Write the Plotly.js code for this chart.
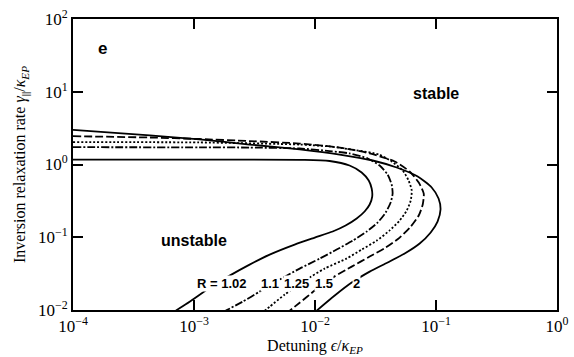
<!DOCTYPE html>
<html>
<head>
<meta charset="utf-8">
<script src="https://cdn.plot.ly/plotly-3.0.1.min.js"></script>
<style>html,body{margin:0;padding:0;background:#fff;}#chart{width:574px;height:357px;}</style>
</head>
<body>
<div id="chart"></div>
<script>
// Detuning eps/kappa_EP and relaxation rate gamma/kappa_EP along each boundary curve
const eps_R102 = [1e-4, 1.11e-3, 7.47e-3, 8.22e-3, 0.01321, 0.0193, 0.0243, 0.0278, 0.0294, 0.0297, 0.0283, 0.0257, 0.0221, 0.0179, 0.0140, 9.96e-3, 6.79e-3, 4.22e-3, 2.88e-3, 1.97e-3, 1.35e-3, 9.2e-4, 7.06e-4];
const gam_R102 = [1.17, 1.17, 1.16, 1.16, 1.117, 0.969, 0.776, 0.602, 0.468, 0.363, 0.282, 0.226, 0.181, 0.145, 0.120, 0.099, 0.0794, 0.0578, 0.0421, 0.0297, 0.0203, 0.0130, 0.0098];

const eps_R11 = [1e-4, 1.11e-3, 2.88e-3, 7.47e-3, 0.01321, 0.0193, 0.0273, 0.0342, 0.0398, 0.0430, 0.0438, 0.0422, 0.0384, 0.0329, 0.0268, 0.0205, 0.0151, 0.01094, 7.47e-3, 5.11e-3, 3.49e-3, 2.52e-3, 1.83e-3];
const gam_R11 = [1.73, 1.72, 1.71, 1.66, 1.53, 1.42, 1.21, 0.969, 0.728, 0.531, 0.399, 0.300, 0.219, 0.159, 0.120, 0.090, 0.0677, 0.0509, 0.0371, 0.0262, 0.0179, 0.0130, 0.0098];

const eps_R125 = [1e-4, 1.11e-3, 7.47e-3, 0.01321, 0.0213, 0.0340, 0.0430, 0.0531, 0.0594, 0.0630, 0.0618, 0.0573, 0.0501, 0.0414, 0.0324, 0.0243, 0.0182, 0.0120, 8.22e-3, 5.62e-3, 4.22e-3, 3.84e-3];
const gam_R125 = [2.03, 2.01, 1.88, 1.77, 1.58, 1.37, 1.10, 0.827, 0.602, 0.439, 0.320, 0.233, 0.170, 0.124, 0.090, 0.0677, 0.0509, 0.0371, 0.0254, 0.0163, 0.0111, 0.0098];

const eps_R15 = [1e-4, 4.31e-4, 1.11e-3, 2.88e-3, 7.47e-3, 0.0160, 0.0283, 0.0456, 0.0605, 0.0720, 0.0792, 0.0777, 0.0720, 0.0618, 0.0501, 0.0384, 0.0283, 0.0201, 0.0140, 9.96e-3, 7.47e-3, 6.18e-3];
const gam_R15 = [2.45, 2.35, 2.24, 2.10, 1.94, 1.71, 1.42, 1.10, 0.801, 0.565, 0.399, 0.282, 0.199, 0.140, 0.099, 0.0722, 0.0543, 0.0395, 0.0279, 0.0185, 0.0126, 0.0098];

const eps_R2 = [1e-4, 4.31e-4, 1.11e-3, 2.88e-3, 7.47e-3, 0.0160, 0.0300, 0.0473, 0.0706, 0.0921, 0.105, 0.109, 0.103, 0.0904, 0.0733, 0.0551, 0.0398, 0.0283, 0.0201, 0.01456, 0.01033];
const gam_R2 = [3.0, 2.51, 2.21, 1.88, 1.61, 1.37, 1.135, 0.909, 0.684, 0.483, 0.341, 0.240, 0.164, 0.116, 0.0819, 0.0597, 0.0449, 0.0337, 0.0238, 0.0158, 0.0098];

const curveNames = ['R = 1.02', '1.1', '1.25', '1.5', '2'];
const curveDash = ['solid', '8px,2px,2px,2px', '2px,2px', '8px,3px', 'solid'];

// Contour label positions
const labelText = ['R = 1.02', '1.1', '1.25', '1.5', '2'];
const labelEps = [1.70e-3, 4.25e-3, 7.0e-3, 0.0118, 0.0222];
const labelGam = [0.0231, 0.0231, 0.0231, 0.0231, 0.0231];

// Region labels
const regionText = ['unstable', 'stable', 'e'];
const regionEps = [1.0e-3, 0.1, 1.75e-4];
const regionGam = [0.090, 9.5, 39.4];

const xTickVals = [1e-4, 1e-3, 1e-2, 1e-1, 1];
const xTickText = ['10<sup>\u22124</sup>', '10<sup>\u22123</sup>', '10<sup>\u22122</sup>', '10<sup>\u22121</sup>', '10<sup>0</sup>'];
const yTickVals = [1e-2, 1e-1, 1, 10, 100];
const yTickText = ['10<sup>\u22122</sup>', '10<sup>\u22121</sup>', '10<sup>0</sup>', '10<sup>1</sup>', '10<sup>2</sup>'];

const xs = [eps_R102, eps_R11, eps_R125, eps_R15, eps_R2];
const ys = [gam_R102, gam_R11, gam_R125, gam_R15, gam_R2];

const traces = xs.map((x, i) => ({
  x: x, y: ys[i], type: 'scatter', mode: 'lines', name: curveNames[i],
  line: {color: '#000', width: 1.8, dash: curveDash[i], shape: 'spline', smoothing: 0.6},
  showlegend: false, hoverinfo: 'skip'
}));

const annotations = [];
labelText.forEach((t, i) => annotations.push({
  x: Math.log10(labelEps[i]), y: Math.log10(labelGam[i]), xref: 'x', yref: 'y',
  text: '<b>' + t + '</b>', showarrow: false, bgcolor: '#fff', borderpad: 0,
  font: {family: 'Liberation Sans, Arial, sans-serif', size: 13, color: '#000'}
}));
const regionSizes = [16, 16, 17];
regionText.forEach((t, i) => annotations.push({
  x: Math.log10(regionEps[i]), y: Math.log10(regionGam[i]), xref: 'x', yref: 'y',
  text: '<b>' + t + '</b>', showarrow: false,
  font: {family: 'Liberation Sans, Arial, sans-serif', size: regionSizes[i], color: '#000'}
}));

const serif = 'Liberation Serif, DejaVu Serif, serif';
const axisCommon = {
  type: 'log', showgrid: false, zeroline: false, showline: true, linecolor: '#000', linewidth: 2,
  mirror: 'ticks', ticks: 'inside', ticklen: 10, tickwidth: 2, tickcolor: '#000',
  tickfont: {family: serif, size: 17, color: '#000'}
};

const layout = {
  width: 574, height: 357,
  margin: {l: 73, r: 17, t: 19, b: 47},
  paper_bgcolor: '#fff', plot_bgcolor: '#fff',
  showlegend: false,
  xaxis: Object.assign({}, axisCommon, {
    range: [-4, 0], tickmode: 'array', tickvals: xTickVals, ticktext: xTickText,
    title: {text: 'Detuning <i>\u03f5</i>/<i>\u03ba</i><sub><i>EP</i></sub>', font: {family: serif, size: 16, color: '#000'}, standoff: 4}
  }),
  yaxis: Object.assign({}, axisCommon, {
    range: [-2, 2], tickmode: 'array', tickvals: yTickVals, ticktext: yTickText,
    title: {text: 'Inversion relaxation rate <i>\u03b3</i><sub>||</sub>/<i>\u03ba</i><sub><i>EP</i></sub>', font: {family: serif, size: 16, color: '#000'}, standoff: 8}
  }),
  annotations: annotations
};

Plotly.newPlot('chart', traces, layout, {displayModeBar: false, staticPlot: true});
</script>
</body>
</html>
